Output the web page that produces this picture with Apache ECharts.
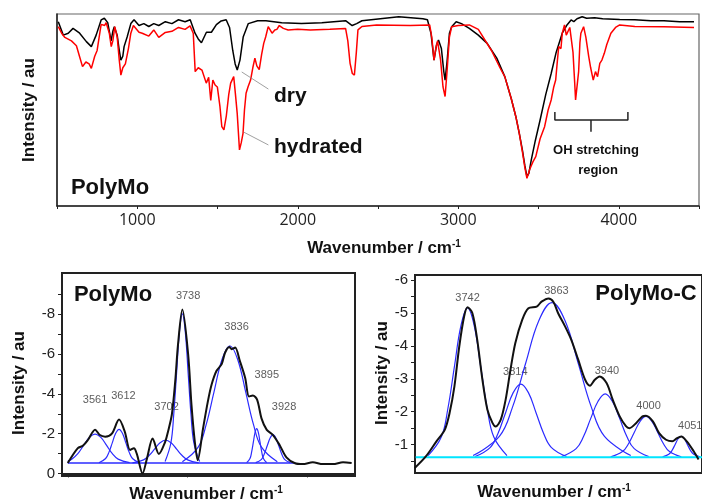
<!DOCTYPE html>
<html>
<head>
<meta charset="utf-8">
<script src="https://cdn.jsdelivr.net/npm/echarts@6.0.0/dist/echarts.min.js"></script>
<style>
  html, body { margin: 0; padding: 0; background: #fff; }
  #chart-container { width: 702px; height: 504px; }
</style>
</head>
<body>
<div id="chart-container"></div>
<script>
// ---- top panel: full spectra (wavenumber, intensity au) ----
var drySpectrum = [
  [508, 96], [539, 89], [570, 90], [600, 92.5], [641, 90], [683, 85.6], [714, 83], [744, 89],
  [775, 96.9], [795, 97.8], [816, 95.5], [837, 86], [848, 91], [857, 93.4], [875, 89], [888, 81],
  [898, 76], [910, 78], [918, 83], [937, 88], [960, 95], [980, 97], [1011, 94], [1041, 95],
  [1072, 93.5], [1103, 95], [1134, 94], [1175, 96], [1216, 95], [1257, 97], [1298, 96], [1330, 97],
  [1360, 90], [1380, 87], [1400, 85], [1431, 90.5], [1462, 90.5], [1493, 94.5], [1523, 96.4],
  [1554, 97], [1575, 93], [1595, 81], [1610, 74], [1623, 70.8], [1640, 76], [1660, 88], [1692, 95],
  [1750, 96.5], [1802, 96.5], [1900, 95.5], [2023, 95], [2150, 95.5], [2298, 96.5], [2339, 94],
  [2367, 95], [2400, 96.5], [2629, 98.6], [2780, 97.5], [2808, 97], [2830, 90], [2849, 76],
  [2865, 84], [2877, 86.5], [2895, 82], [2910, 70], [2918, 65.6], [2930, 75], [2945, 90],
  [2959, 93.4], [2987, 96], [3020, 95], [3069, 92.5], [3125, 89], [3180, 84.7], [3240, 77],
  [3290, 67.4], [3330, 56], [3359, 46.5], [3380, 38], [3400, 29], [3415, 21], [3428, 15.3],
  [3440, 17], [3455, 24], [3480, 34], [3510, 44.8], [3545, 58], [3579, 69], [3610, 80], [3648, 90],
  [3675, 94], [3703, 96.9], [3720, 96], [3740, 97.5], [3772, 98.6], [3800, 97.8], [3850, 98],
  [3900, 97.5], [4006, 97.2], [4100, 97], [4200, 96.5], [4282, 96.5], [4380, 96], [4469, 96]
];
var hydratedSpectrum = [
  [508, 93.4], [529, 90], [549, 87.8], [590, 86], [621, 83.5], [640, 78], [659, 72.6], [680, 75],
  [700, 74], [714, 71.7], [735, 78], [750, 81], [775, 94.6], [797, 94], [806, 95.5], [826, 90],
  [838, 83], [848, 86], [860, 93.4], [875, 88], [888, 76], [898, 68.2], [910, 72], [926, 74],
  [945, 82], [960, 90], [976, 94], [1011, 90.5], [1031, 90], [1072, 88.5], [1103, 91.7],
  [1134, 87.8], [1175, 90.4], [1216, 91], [1257, 93], [1298, 92], [1329, 93.8], [1349, 90],
  [1361, 70], [1380, 72], [1403, 70.8], [1430, 64], [1445, 67], [1458, 55], [1471, 65.6],
  [1485, 63], [1499, 62], [1515, 52], [1527, 41.3], [1540, 39.6], [1555, 47], [1570, 58],
  [1582, 64], [1601, 67.4], [1612, 58], [1623, 48], [1637, 29.2], [1648, 33], [1659, 37.8],
  [1668, 50], [1678, 58.7], [1690, 62], [1706, 65.6], [1720, 72], [1733, 77], [1745, 73],
  [1760, 71], [1775, 79], [1788, 84.7], [1800, 88], [1816, 93.4], [1840, 90], [1857, 91.7],
  [1870, 92], [1885, 94], [1910, 92.5], [1940, 91.7], [2000, 92], [2078, 91.7], [2200, 92],
  [2298, 92.5], [2312, 86], [2326, 74.3], [2340, 69], [2353, 68.2], [2365, 80], [2375, 91.7],
  [2400, 93.5], [2491, 94.3], [2700, 94], [2822, 94.3], [2835, 88], [2849, 76], [2860, 82],
  [2871, 86], [2890, 76], [2905, 62], [2918, 57], [2930, 70], [2945, 88], [2959, 93.4],
  [3000, 94], [3069, 94.3], [3125, 92], [3207, 81], [3260, 72], [3290, 67.4], [3330, 56],
  [3359, 46.5], [3380, 38], [3400, 28], [3415, 20], [3428, 14.4], [3445, 19], [3465, 23],
  [3483, 25.7], [3510, 35], [3538, 41.3], [3560, 50], [3579, 55.2], [3595, 62], [3607, 65.6],
  [3618, 76], [3626, 83], [3640, 82], [3648, 90], [3662, 94.3], [3673, 89], [3684, 88.2],
  [3695, 93], [3703, 93.4], [3715, 80], [3725, 65], [3731, 55.2], [3740, 54.3], [3750, 70],
  [3758, 85], [3764, 90], [3781, 93.4], [3795, 88], [3813, 77.8], [3825, 72], [3841, 65.6],
  [3855, 70], [3868, 67.4], [3882, 74.3], [3895, 76], [3910, 79.5], [3925, 84], [3951, 90],
  [3980, 93], [4006, 94.3], [4100, 93.5], [4282, 93.4], [4469, 93]
];
var dryLeader = [[1651, 69.8], [1817, 60.9]];
var hydratedLeader = [[1663, 38.5], [1817, 31.8]];
var ohBracket = [[3602, 49], [3602, 44.8], [4057, 44.8], [4057, 49]];
var ohStem = [[3827, 44.8], [3827, 38.7]];

// ---- bottom left: PolyMo OH region fit ----
var polyMoFit = [
  [3500, 0.52], [3521, 1.27], [3532, 1.40], [3542, 1.68], [3557, 2.20], [3567, 1.93], [3578, 1.85],
  [3592, 2.00], [3607, 2.71], [3619, 2.09], [3630, 1.18], [3638, 1.27], [3644, 0.98], [3656, 0.0],
  [3665, 0.73], [3677, 1.75], [3690, 0.98], [3703, 1.58], [3709, 2.10], [3717, 2.95], [3724, 4.60],
  [3730, 6.50], [3739, 8.24], [3751, 6.0], [3758, 3.45], [3765, 1.58], [3771, 0.66], [3782, 2.24],
  [3792, 3.60], [3800, 4.47], [3810, 5.15], [3821, 5.50], [3828, 6.07], [3837, 6.36], [3842, 6.25],
  [3849, 6.33], [3859, 5.65], [3870, 4.80], [3878, 3.87], [3886, 3.92], [3895, 3.70], [3904, 2.77],
  [3915, 2.19], [3928, 1.93], [3942, 1.42], [3956, 0.81], [3974, 0.51], [3990, 0.47], [4011, 0.56],
  [4032, 0.47], [4053, 0.47], [4074, 0.56], [4092, 0.52]
];
var polyMoBaseline = [[3500, 0.52], [3975, 0.52]];
var polyMoBands = [
  [[3500, 0.61], [3509, 0.72], [3521, 0.99], [3533, 1.41], [3545, 1.81], [3557, 1.98], [3569, 1.81], [3581, 1.41], [3593, 0.99], [3605, 0.72], [3629, 0.54]],
  [[3565, 0.54], [3579, 0.75], [3586, 1.07], [3593, 1.55], [3600, 2.02], [3607, 2.22], [3614, 2.02], [3621, 1.55], [3628, 1.07], [3635, 0.75], [3649, 0.54]],
  [[3635, 0.53], [3658, 0.68], [3669.5, 0.90], [3681, 1.22], [3692.5, 1.54], [3704, 1.68], [3715.5, 1.54], [3727, 1.22], [3738.5, 0.90], [3750, 0.68], [3773, 0.53]],
  [[3703, 0.60], [3715, 1.53], [3721, 2.96], [3727, 5.07], [3733, 7.14], [3739, 8.02], [3745, 7.14], [3751, 5.07], [3757, 2.96], [3763, 1.53], [3775, 0.60]],
  [[3739, 0.585], [3772, 1.32], [3788.5, 2.44], [3805, 4.10], [3821.5, 5.72], [3838, 6.42], [3854.5, 5.72], [3871, 4.10], [3887.5, 2.44], [3904, 1.32], [3937, 0.585]],
  [[3873, 0.54], [3880, 0.75], [3883.5, 1.08], [3887, 1.57], [3890.5, 2.05], [3894, 2.25], [3897.5, 2.05], [3901, 1.57], [3904.5, 1.08], [3908, 0.75], [3915, 0.54]],
  [[3892, 0.54], [3904, 0.71], [3910, 0.99], [3916, 1.39], [3922, 1.78], [3928, 1.95], [3934, 1.78], [3940, 1.39], [3946, 0.99], [3952, 0.71], [3964, 0.54]]
];
var polyMoLabels = [
  [3557, 3.70, '3561'], [3616, 3.90, '3612'], [3706, 3.32, '3702'], [3751, 8.92, '3738'],
  [3852, 7.39, '3836'], [3915, 4.97, '3895'], [3951, 3.32, '3928']
];
var polyMoYTicks = [0, 2, 4, 6, 8];
var polyMoXTicks = [3500, 3750, 4000];

// ---- bottom right: PolyMo-C OH region fit ----
var polyMoCFit = [
  [3665.6, 0.29], [3682, 0.65], [3697, 1.10], [3709, 1.45], [3716, 1.96], [3723, 2.77], [3730, 3.98],
  [3737, 4.89], [3742, 5.17], [3749, 4.99], [3756, 4.18], [3763.5, 2.97], [3770.7, 2.06], [3778, 1.66],
  [3782.7, 1.55], [3790, 1.76], [3797, 2.36], [3804, 3.27], [3811, 4.08], [3821, 4.79], [3830, 5.14],
  [3842, 5.19], [3849, 5.34], [3859, 5.44], [3866, 5.34], [3873, 4.99], [3883, 4.59], [3892, 4.18],
  [3902, 3.58], [3912, 2.97], [3919, 2.79], [3926, 2.97], [3933, 3.07], [3943, 2.87], [3952, 2.36],
  [3962, 1.86], [3971, 1.56], [3976, 1.50], [3986, 1.66], [3995, 1.86], [4000, 1.88], [4010, 1.71],
  [4019, 1.35], [4029, 1.15], [4038, 1.10], [4045, 1.20], [4051, 1.25], [4059, 1.10], [4069, 0.80],
  [4076, 0.55]
];
var polyMoCBaseline = [[3667, 0.62], [4081, 0.62]];
var polyMoCBands = [
  [[3685, 0.67], [3704, 1.23], [3713.5, 2.09], [3723, 3.37], [3732.5, 4.62], [3742, 5.15], [3751.5, 4.62], [3761, 3.37], [3770.5, 2.09], [3780, 1.23], [3799, 0.67]],
  [[3753, 0.64], [3775, 0.92], [3786, 1.34], [3797, 1.97], [3808, 2.58], [3819, 2.84], [3830, 2.58], [3841, 1.97], [3852, 1.34], [3863, 0.92], [3885, 0.64]],
  [[3750, 0.67], [3788, 1.25], [3807, 2.14], [3826, 3.47], [3845, 4.76], [3864, 5.31], [3883, 4.76], [3902, 3.47], [3921, 2.14], [3940, 1.25], [3978, 0.67]],
  [[3878, 0.64], [3899, 0.88], [3909.5, 1.24], [3920, 1.79], [3930.5, 2.31], [3941, 2.54], [3951.5, 2.31], [3962, 1.79], [3972.5, 1.24], [3983, 0.88], [4004, 0.64]],
  [[3949, 0.63], [3966, 0.79], [3974.5, 1.02], [3983, 1.37], [3991.5, 1.71], [4000, 1.86], [4008.5, 1.71], [4017, 1.37], [4025.5, 1.02], [4034, 0.79], [4051, 0.63]],
  [[4024, 0.63], [4033, 0.71], [4037.5, 0.82], [4042, 1.0], [4046.5, 1.18], [4051, 1.25], [4055.5, 1.18], [4060, 1.0], [4064.5, 0.82], [4069, 0.71], [4078, 0.63]]
];
var polyMoCLabels = [
  [3742, 5.46, '3742'], [3811, 3.22, '3814'], [3870.5, 5.68, '3863'], [3943.6, 3.25, '3940'],
  [4003.7, 2.18, '4000'], [4064, 1.58, '4051']
];
var polyMoCYTicks = [1, 2, 3, 4, 5, 6];

var FONT = "'Liberation Sans', Arial, sans-serif";
var BLUE = "#2b2bff";

var dom = document.getElementById("chart-container");
var myChart = echarts.init(dom, null, { renderer: "canvas" });

function line(data, idx, color, width, smooth) {
  return {
    type: "line",
    xAxisIndex: idx,
    yAxisIndex: idx,
    data: data,
    symbol: "none",
    smooth: smooth || false,
    lineStyle: { color: color, width: width },
    silent: true,
  };
}

function peakLabels(data, idx) {
  return {
    type: "scatter",
    xAxisIndex: idx,
    yAxisIndex: idx,
    data: data,
    symbolSize: 0,
    silent: true,
    label: {
      show: true,
      position: "inside",
      formatter: function (p) { return p.data[2]; },
      color: "#333",
      fontSize: 11,
      fontFamily: FONT,
    },
  };
}

function axisTitle(x, y, rotated) {
  return {
    type: "text",
    x: x,
    y: y,
    rotation: rotated ? Math.PI / 2 : 0,
    style: {
      text: rotated ? "Intensity / au" : "{a|Wavenumber / cm}{b|-1}",
      font: "bold 17px " + FONT,
      fill: "#111",
      align: "center",
      verticalAlign: "middle",
      rich: {
        a: { font: "bold 17px " + FONT, fill: "#111", verticalAlign: "bottom" },
        b: { font: "bold 10px " + FONT, fill: "#111", verticalAlign: "top" },
      },
    },
  };
}

function plainText(x, y, text, font, align) {
  return {
    type: "text",
    x: x,
    y: y,
    style: { text: text, font: font, fill: "#111", align: align || "center", verticalAlign: "middle" },
  };
}

var series = [
  line(drySpectrum, 0, "#000", 1.5),
  line(hydratedSpectrum, 0, "#ff0000", 1.5),
  line(dryLeader, 0, "#888", 0.8),
  line(hydratedLeader, 0, "#888", 0.8),
  line(ohBracket, 0, "#222", 1.5),
  line(ohStem, 0, "#222", 1.5),
];
series.push(line(polyMoBaseline, 1, BLUE, 1.5));
polyMoBands.forEach(function (b) { series.push(line(b, 1, BLUE, 1.2, 0.4)); });
series.push(line(polyMoFit, 1, "#111", 2, 0.3));
series.push(peakLabels(polyMoLabels, 1));
polyMoCBands.forEach(function (b) { series.push(line(b, 2, BLUE, 1.2, 0.4)); });
series.push(line(polyMoCBaseline, 2, "#00e5ff", 2));
series.push(line(polyMoCFit, 2, "#111", 2, 0.3));
series.push(peakLabels(polyMoCLabels, 2));

var option = {
  animation: false,
  backgroundColor: "#fff",
  grid: [
    { left: 57, top: 14, width: 650, height: 192, show: true, borderColor: "#666", borderWidth: 1.2 },
    { left: 62, top: 273, width: 293, height: 203, show: true, borderColor: "#222", borderWidth: 2 },
    { left: 415, top: 275, width: 290, height: 198, show: true, borderColor: "#222", borderWidth: 2 },
  ],
  xAxis: [
    {
      gridIndex: 0, type: "value", min: 500, max: 4500, interval: 500,
      axisLine: { lineStyle: { color: "#222", width: 1.5 } },
      axisTick: { length: 3, lineStyle: { color: "#222" } },
      axisLabel: {
        margin: 6, color: "#222", fontSize: 16, fontFamily: "'Open Sans', sans-serif",
        formatter: function (v) { return v % 1000 === 0 ? String(v) : ""; },
      },
      splitLine: { show: false },
    },
    {
      gridIndex: 1, type: "value", min: 3488, max: 4099,
      axisLine: { lineStyle: { color: "#222", width: 2 } },
      axisTick: { length: 4, customValues: polyMoXTicks, lineStyle: { color: "#222" } },
      axisLabel: { show: false },
      splitLine: { show: false },
    },
    {
      gridIndex: 2, type: "value", min: 3666, max: 4081,
      axisLine: { lineStyle: { color: "#222", width: 2 } },
      axisTick: { show: false },
      axisLabel: { show: false },
      splitLine: { show: false },
    },
  ],
  yAxis: [
    {
      gridIndex: 0, type: "value", min: 0, max: 100,
      axisLine: { show: true, lineStyle: { color: "#222", width: 1.5 } },
      axisTick: { show: false },
      axisLabel: { show: false },
      splitLine: { show: false },
    },
    {
      gridIndex: 1, type: "value", min: -0.13, max: 10.08,
      axisLine: { show: true, lineStyle: { color: "#222", width: 2 } },
      axisTick: { length: 4, customValues: [0, 1, 2, 3, 4, 5, 6, 7, 8, 9], lineStyle: { color: "#222" } },
      axisLabel: {
        customValues: polyMoYTicks, margin: 7, color: "#222", fontSize: 15, fontFamily: FONT,
        formatter: function (v) { return v === 0 ? "0" : "-" + v; },
      },
      splitLine: { show: false },
    },
    {
      gridIndex: 2, type: "value", min: 0.14, max: 6.15,
      axisLine: { show: true, lineStyle: { color: "#222", width: 2 } },
      axisTick: { length: 4, customValues: [0.5, 1, 1.5, 2, 2.5, 3, 3.5, 4, 4.5, 5, 5.5, 6], lineStyle: { color: "#222" } },
      axisLabel: {
        customValues: polyMoCYTicks, margin: 7, color: "#222", fontSize: 15, fontFamily: FONT,
        formatter: function (v) { return "-" + v; },
      },
      splitLine: { show: false },
    },
  ],
  graphic: [
    axisTitle(29, 110, true),
    axisTitle(384, 248, false),
    axisTitle(19, 383, true),
    axisTitle(206, 494, false),
    axisTitle(382, 373, true),
    axisTitle(554, 492, false),
    plainText(110, 188, "PolyMo", "bold 22px " + FONT),
    plainText(274, 96, "dry", "bold 21px " + FONT, "left"),
    plainText(274, 147, "hydrated", "bold 21px " + FONT, "left"),
    plainText(596, 150, "OH stretching", "bold 13px " + FONT),
    plainText(598, 170, "region", "bold 13px " + FONT),
    plainText(113, 295, "PolyMo", "bold 22px " + FONT),
    plainText(646, 294, "PolyMo-C", "bold 22px " + FONT),
  ],
  series: series,
};

myChart.setOption(option);
window.addEventListener("resize", myChart.resize);
</script>
</body>
</html>
